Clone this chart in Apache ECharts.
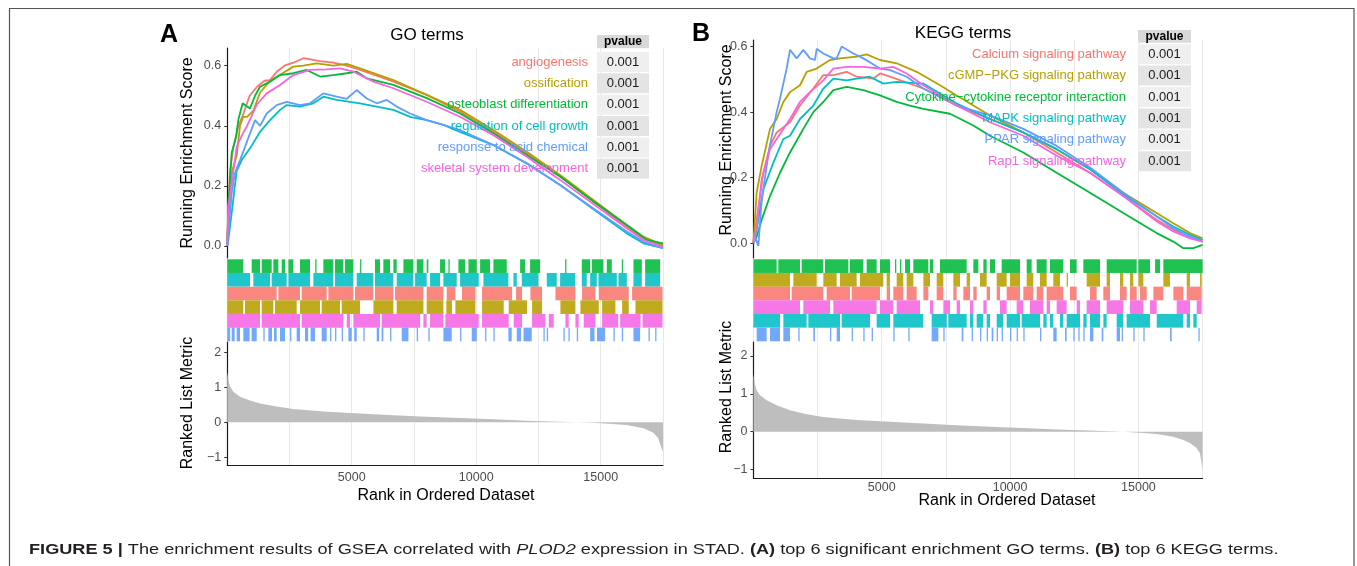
<!DOCTYPE html>
<html><head><meta charset="utf-8">
<script src="https://cdn.jsdelivr.net/npm/echarts@6/dist/echarts.min.js"></script>
<style>html,body{margin:0;padding:0;background:#fff}#c{width:1357px;height:566px}</style>
</head><body><div id="c"></div>
<script>
// ---------------- DATA ----------------
const xTickLabels = [5000, 10000, 15000];
const esTicks = [0, 0.2, 0.4, 0.6];
const metricTicks = [-1, 0, 1, 2];
const rankMax = 17500;

// Panel A (GO terms)
const termsA = ['angiogenesis', 'ossification', 'osteoblast differentiation', 'regulation of cell growth', 'response to acid chemical', 'skeletal system development'];
const pvalsA = ['0.001', '0.001', '0.001', '0.001', '0.001', '0.001'];

const esA_angiogenesis = [[0,0],[46,0.13],[112,0.25],[250,0.33],[450,0.40],[650,0.44],[900,0.50],[1200,0.53],[1500,0.55],[1719,0.552],[1987,0.58],[2300,0.60],[2656,0.61],[3058,0.625],[3400,0.62],[3727,0.615],[4263,0.61],[4799,0.60],[5335,0.586],[6674,0.547],[8011,0.503],[9350,0.447],[10689,0.380],[12028,0.308],[13367,0.231],[14706,0.148],[16045,0.064],[16714,0.026],[17500,0]];
const esA_ossification = [[0,0],[46,0.09],[200,0.25],[380,0.30],[514,0.40],[648,0.43],[800,0.43],[916,0.44],[1050,0.45],[1318,0.51],[1719,0.55],[2121,0.57],[2656,0.597],[3058,0.60],[3593,0.608],[4263,0.60],[4799,0.606],[5335,0.591],[6674,0.552],[8011,0.503],[9350,0.453],[10689,0.386],[12028,0.314],[13367,0.236],[14706,0.153],[16045,0.070],[16714,0.031],[17500,0.002]];
const esA_osteoblast = [[0,0],[60,0.15],[179,0.31],[350,0.36],[447,0.42],[621,0.475],[780,0.465],[916,0.458],[1117,0.50],[1318,0.53],[1719,0.547],[2121,0.569],[2656,0.575],[3192,0.586],[3727,0.564],[4263,0.569],[4799,0.575],[5201,0.58],[5603,0.558],[6674,0.536],[8011,0.492],[9350,0.441],[10689,0.375],[12028,0.303],[13367,0.231],[14706,0.148],[16045,0.070],[16848,0.020],[17500,0.009]];
const esA_regulation = [[0,0],[46,0.02],[179,0.109],[380,0.25],[581,0.286],[916,0.325],[1318,0.380],[1719,0.419],[2121,0.453],[2389,0.469],[2924,0.464],[3460,0.475],[3861,0.497],[4397,0.486],[4933,0.480],[5335,0.475],[6004,0.464],[6674,0.453],[7343,0.430],[8011,0.419],[8681,0.403],[9350,0.380],[10689,0.336],[12028,0.275],[13367,0.203],[14706,0.122],[16045,0.042],[16714,0.009],[17500,-0.007]];
const esA_response = [[0,0],[46,0.04],[179,0.175],[300,0.24],[514,0.286],[715,0.330],[916,0.375],[1117,0.419],[1318,0.40],[1585,0.441],[1987,0.469],[2389,0.480],[2924,0.469],[3326,0.475],[3861,0.508],[4397,0.497],[4799,0.49],[5201,0.519],[5603,0.491],[6004,0.475],[6406,0.486],[6808,0.464],[7343,0.441],[8011,0.419],[8681,0.403],[9350,0.386],[10689,0.336],[12028,0.275],[13367,0.203],[14706,0.125],[16045,0.048],[16714,0.014],[17500,-0.007]];
const esA_skeletal = [[0,0],[46,0.13],[200,0.22],[380,0.33],[600,0.37],[782,0.397],[1184,0.47],[1585,0.508],[2121,0.536],[2656,0.569],[3326,0.586],[3995,0.588],[4531,0.591],[5067,0.580],[5871,0.547],[6674,0.525],[8011,0.480],[9350,0.430],[10689,0.369],[12028,0.297],[13367,0.220],[14706,0.140],[16045,0.059],[16714,0.020],[17500,-0.004]];

const hitsA_osteoblast = [[0,648],[983,1318],[1385,1787],[1853,2054],[2188,2322],[2456,2656],[2924,3326],[3535,3535],[3861,4263],[4330,4665],[4732,5067],[5335,5335],[5935,6136],[6270,6538],[6673,6807],[7076,7477],[7611,7880],[8011,8078],[8547,8748],[8882,8882],[9284,9552],[9686,10021],[10155,10556],[10690,11226],[11762,11963],[12163,12565],[13569,13569],[14239,14574],[14641,15109],[15243,15444],[15845,15845],[16314,16648],[16782,17383]];
const hitsA_regulation = [[0,916],[1050,1719],[1786,2389],[2456,3326],[3460,4263],[4330,5067],[5201,5871],[5935,6673],[6807,7477],[7544,8011],[8145,8547],[8681,9217],[9351,10100],[10289,11292],[11494,11628],[11829,12498],[12833,13234],[13368,13971],[14239,14440],[14574,14841],[14908,15645],[15712,16047],[16314,16648],[16782,17383]];
const hitsA_angiogenesis = [[0,1987],[2054,2924],[2991,3995],[4062,5067],[5134,5870],[5935,6673],[6740,7880],[8011,8681],[8815,9163],[9430,9966],[10234,11439],[11600,11841],[12175,12644],[13180,13983],[14251,14787],[14921,16125],[16259,17480]];
const hitsA_ossification = [[0,648],[715,1318],[1385,1853],[1920,2790],[2924,3727],[3794,4531],[4598,5335],[5871,6673],[6807,7880],[8011,8681],[8800,9029],[9163,9966],[10234,11104],[11305,12041],[12242,12644],[13380,13983],[14184,14921],[15054,15590],[15858,16125],[16393,17480]];
const hitsA_skeletal = [[0,1318],[1385,2924],[2991,4665],[4799,4933],[5067,6136],[6204,7744],[7878,8011],[8145,8681],[8760,10100],[10234,11305],[11506,11841],[12242,12778],[12912,13112],[13581,13715],[13983,14117],[14318,14787],[15054,15700],[15780,16600],[16680,17480]];
const hitsA_response = [[0,120],[180,300],[380,514],[648,900],[980,1184],[1452,1452],[1652,1800],[1880,1987],[2121,2322],[2523,2523],[2790,2924],[3125,3250],[3350,3527],[3794,3995],[4129,4129],[4330,4330],[4598,4598],[4866,5000],[5100,5201],[5469,5469],[6004,6100],[6200,6271],[6540,6540],[7008,7276],[7611,7611],[8078,8078],[8681,9016],[9351,9351],[9820,10021],[10356,10356],[10690,10690],[11292,11426],[11628,11800],[11900,12230],[12699,12699],[12833,12833],[13502,13502],[13703,13703],[14038,14038],[14574,14750],[14850,15176],[15511,15511],[15846,15846],[16314,16582],[16917,16917],[17185,17185]];

const metricA = [[0,1.45],[46,1.21],[112,1.02],[246,0.875],[514,0.73],[916,0.62],[1318,0.54],[1987,0.45],[2656,0.38],[3995,0.30],[5335,0.25],[6674,0.20],[8011,0.155],[9350,0.12],[10689,0.085],[12028,0.047],[13367,0.018],[14706,-0.01],[16045,-0.08],[16714,-0.17],[17116,-0.3],[17300,-0.45],[17450,-0.75],[17500,-0.85]];

// Panel B (KEGG terms)
const termsB = ['Calcium signaling pathway', 'cGMP\u2212PKG signaling pathway', 'Cytokine\u2212cytokine receptor interaction', 'MAPK signaling pathway', 'PPAR signaling pathway', 'Rap1 signaling pathway'];
const pvalsB = ['0.001', '0.001', '0.001', '0.001', '0.001', '0.001'];

const esB_calcium = [[0,0],[127,0.072],[387,0.215],[647,0.297],[906,0.338],[1426,0.369],[1815,0.420],[2334,0.472],[2724,0.513],[3114,0.513],[3633,0.523],[4022,0.508],[4672,0.502],[4931,0.518],[5321,0.508],[6619,0.472],[7918,0.420],[9217,0.379],[10515,0.338],[11814,0.277],[13112,0.215],[14411,0.144],[15709,0.072],[16358,0.041],[17008,0.020],[17500,0.005]];
const esB_cgmp = [[0,0],[127,0.154],[322,0.236],[647,0.349],[906,0.379],[1166,0.431],[1426,0.461],[1815,0.482],[2075,0.523],[2464,0.533],[2984,0.559],[3373,0.564],[4022,0.569],[4412,0.576],[4931,0.559],[5581,0.549],[6360,0.523],[7269,0.482],[7918,0.451],[9217,0.390],[10515,0.338],[11814,0.287],[13112,0.226],[14411,0.154],[15709,0.092],[16358,0.061],[17008,0.031],[17500,0.015]];
const esB_cytokine = [[0,0],[127,0.020],[322,0.072],[647,0.144],[1036,0.215],[1426,0.277],[1945,0.349],[2334,0.400],[2724,0.431],[3114,0.467],[3633,0.477],[4282,0.467],[4931,0.451],[5581,0.431],[6100,0.420],[6619,0.410],[7658,0.395],[8567,0.359],[9217,0.328],[10515,0.277],[11814,0.215],[13112,0.154],[14411,0.092],[15709,0.031],[16358,0.005],[16748,-0.015],[17138,-0.015],[17500,-0.005]];
const esB_mapk = [[0,0],[127,0.041],[387,0.164],[777,0.246],[1166,0.318],[1426,0.328],[1815,0.379],[2334,0.420],[2724,0.472],[3114,0.502],[3633,0.497],[4022,0.502],[4542,0.508],[5061,0.487],[5581,0.492],[6619,0.487],[7918,0.426],[9217,0.379],[10515,0.338],[11814,0.287],[13112,0.226],[14411,0.149],[15709,0.082],[16358,0.051],[17008,0.026],[17500,0.01]];
const esB_ppar = [[0,0.01],[62,0.02],[192,-0.008],[322,0.13],[517,0.236],[647,0.30],[906,0.40],[1036,0.441],[1296,0.533],[1426,0.590],[1685,0.564],[1945,0.590],[2205,0.564],[2399,0.559],[2464,0.593],[2724,0.579],[3114,0.564],[3243,0.564],[3438,0.600],[3892,0.579],[4282,0.564],[4931,0.533],[5321,0.528],[5970,0.508],[6619,0.472],[7918,0.420],[9217,0.390],[10515,0.349],[11814,0.297],[13112,0.231],[14411,0.154],[15709,0.082],[16358,0.046],[17008,0.020],[17500,0.005]];
const esB_rap1 = [[0,0],[127,0.051],[322,0.195],[647,0.287],[906,0.318],[1426,0.379],[1815,0.431],[2205,0.461],[2724,0.497],[3114,0.533],[3633,0.538],[4282,0.538],[4931,0.533],[5451,0.538],[5970,0.518],[6619,0.482],[7918,0.420],[9217,0.369],[10515,0.328],[11814,0.267],[13112,0.215],[14411,0.144],[15709,0.067],[16358,0.036],[17008,0.015],[17500,0.005]];

const hitsB_cytokine = [[0,906],[971,1815],[1880,2724],[2789,3698],[3763,4282],[4412,4801],[4931,5321],[5516,5516],[5711,5711],[5905,6100],[6230,6815],[6880,7010],[7270,8308],[8568,8763],[8958,9088],[9218,9413],[9672,10386],[10646,10840],[11035,11425],[11554,12074],[12334,12594],[12854,13503],[13763,14932],[14997,15452],[15647,15842],[15971,17500]];
const hitsB_cgmp = [[0,1426],[1556,2465],[2724,3244],[3374,4023],[4153,5062],[5192,5322],[5581,5841],[5971,6231],[6621,6880],[7140,7400],[7789,8049],[8309,8439],[8828,9088],[9478,9867],[9997,10386],[10646,10905],[11165,11425],[11684,11944],[12204,12204],[12983,13503],[13763,13893],[14282,14412],[14671,14801],[14997,15192],[15971,16231],[16880,17010],[17400,17465]];
const hitsB_calcium = [[0,1426],[1491,2724],[2854,3763],[3828,4931],[5192,5322],[5451,5841],[5971,6361],[6621,6815],[7140,7400],[7789,7919],[8179,8439],[8568,8698],[9088,9218],[9478,9608],[9867,10386],[10516,10905],[11035,11295],[11425,12074],[12334,12594],[13114,13373],[13633,13893],[14282,14541],[14671,14932],[15062,15322],[15582,15971],[16361,16750],[16880,17465]];
const hitsB_rap1 = [[0,1815],[1945,2984],[3114,4801],[4931,5451],[5581,6490],[6880,7010],[7400,7659],[7919,8049],[8439,8568],[8958,9088],[9608,9867],[10256,10516],[10775,11295],[11425,11554],[11814,12204],[12594,12724],[12983,13503],[13763,14412],[14671,15192],[15452,15712],[16490,17010],[17270,17465]];
const hitsB_mapk = [[0,1036],[1166,2075],[2140,3374],[3438,4542],[4801,5321],[5451,6620],[6945,7530],[7594,8309],[8439,8568],[8698,8958],[9088,9218],[9478,9737],[9867,10386],[10451,11165],[11295,11425],[11554,11684],[11944,12074],[12204,12724],[12854,12983],[13114,13503],[13633,13763],[14152,14412],[14541,15452],[15712,16750],[16880,17010],[17140,17270]];
const hitsB_ppar = [[127,517],[647,1036],[1166,1426],[1750,1750],[2334,2399],[2984,2984],[3244,3374],[3828,3828],[4282,4282],[4607,4607],[5451,5451],[6035,6035],[6945,7205],[7400,7400],[8114,8179],[8503,8503],[8828,8828],[9088,9088],[9283,9348],[9478,9478],[9672,9672],[9997,9997],[10256,10256],[10516,10516],[11165,11165],[11684,11814],[12139,12204],[12464,12464],[12659,12659],[12854,12854],[13114,13244],[13568,13633],[14152,14282],[14347,14347],[14801,14801],[15192,15192],[16231,16296],[17335,17335]];

const metricB = [[0,1.52],[62,1.26],[127,1.09],[257,0.96],[517,0.83],[906,0.70],[1426,0.57],[2075,0.46],[2724,0.39],[4022,0.31],[5321,0.26],[6619,0.22],[7918,0.17],[9217,0.13],[10515,0.10],[11814,0.06],[13112,0.035],[14411,0.0],[15061,-0.03],[15709,-0.06],[16358,-0.13],[16748,-0.22],[17008,-0.30],[17268,-0.43],[17397,-0.57],[17500,-1.0]];

// ---------------- STYLE / LAYOUT ----------------
const COL = {red:'#F8766D', olive:'#B79F00', green:'#00BA38', cyan:'#00BFC4', blue:'#619CFF', pink:'#F564E3'};
const FF = 'Liberation Sans';
const colorsTerms = [COL.red, COL.olive, COL.green, COL.cyan, COL.blue, COL.pink];

const panels = [
  { letter:'A', title:'GO terms', titleX:427, titleY:35, letterX:169, letterY:35,
    left:227.2, width:435.8, xLabelMargin:6.5,
    top:{y:48, h:210, min:-0.040, max:0.659},
    bar:{y:259.3, h:82},
    bot:{y:342, h:123, min:-1.22, max:2.294},
    esTitle:{x:188, y:153}, metTitle:{x:188, y:403}, xTitle:{x:446, y:496},
    table:{labelRight:588, c0:597, c1:649, hy0:35, hy1:48.3, row0:62, pitch:21.35, rh:20},
    terms:termsA, pvals:pvalsA,
    es:[esA_angiogenesis, esA_ossification, esA_osteoblast, esA_regulation, esA_response, esA_skeletal],
    hits:[[hitsA_osteoblast, COL.green],[hitsA_regulation, COL.cyan],[hitsA_angiogenesis, COL.red],[hitsA_ossification, COL.olive],[hitsA_skeletal, COL.pink],[hitsA_response, COL.blue]],
    metric:metricA },
  { letter:'B', title:'KEGG terms', titleX:963, titleY:33, letterX:701, letterY:34,
    left:753.4, width:449.2, xLabelMargin:3.5,
    top:{y:40, h:218, min:-0.045, max:0.620},
    bar:{y:259.3, h:82},
    bot:{y:342, h:136, min:-1.223, max:2.37},
    esTitle:{x:727, y:140}, metTitle:{x:727, y:387}, xTitle:{x:1007, y:501},
    table:{labelRight:1126, c0:1138, c1:1191, hy0:30, hy1:42.7, row0:54.2, pitch:21.4, rh:20},
    terms:termsB, pvals:pvalsB,
    es:[esB_calcium, esB_cgmp, esB_cytokine, esB_mapk, esB_ppar, esB_rap1],
    hits:[[hitsB_cytokine, COL.green],[hitsB_cgmp, COL.olive],[hitsB_calcium, COL.red],[hitsB_rap1, COL.pink],[hitsB_mapk, COL.cyan],[hitsB_ppar, COL.blue]],
    metric:metricB }
];

const grid = [], xAxis = [], yAxis = [], series = [], graphic = [];
const labelStyle = {color:'#4d4d4d', fontSize:12.5, fontFamily:FF};
const splitX = {show:true, lineStyle:{color:'#e8e8e8', width:1}};

panels.forEach((p, pi) => {
  const base = pi * 3;
  grid.push({left:p.left, top:p.top.y, width:p.width, height:p.top.h});
  grid.push({left:p.left, top:p.bar.y, width:p.width, height:p.bar.h});
  grid.push({left:p.left, top:p.bot.y, width:p.width, height:p.bot.h});
  for (let k = 0; k < 3; k++) {
    const isBot = k === 2;
    xAxis.push({gridIndex:base+k, type:'value', min:0, max:rankMax, interval:2500,
      axisLine:{show:isBot, onZero:false, lineStyle:{color:'#1a1a1a', width:1.2}},
      axisTick:{show:false},
      axisLabel:{show:isBot, customValues:xTickLabels, margin:p.xLabelMargin, formatter:v=>String(v), ...labelStyle},
      splitLine:splitX});
  }
  yAxis.push({gridIndex:base, type:'value', min:p.top.min, max:p.top.max,
    axisLine:{show:true, lineStyle:{color:'#1a1a1a', width:1.2}},
    axisTick:{show:true, length:3, customValues:esTicks, lineStyle:{color:'#333'}},
    axisLabel:{customValues:esTicks, margin:6, formatter:v=>v.toFixed(1), ...labelStyle},
    splitLine:{show:false}});
  yAxis.push({gridIndex:base+1, type:'value', min:0, max:6, inverse:true, show:false});
  yAxis.push({gridIndex:base+2, type:'value', min:p.bot.min, max:p.bot.max,
    axisLine:{show:true, onZero:false, lineStyle:{color:'#1a1a1a', width:1.2}},
    axisTick:{show:true, length:3, customValues:metricTicks, lineStyle:{color:'#333'}},
    axisLabel:{customValues:metricTicks, margin:6, formatter:v=>String(v).replace('-', '\u2212'), ...labelStyle},
    splitLine:{show:false}});

  series.push({type:'line', xAxisIndex:base+2, yAxisIndex:base+2, data:p.metric, showSymbol:false, silent:true,
    lineStyle:{width:0}, areaStyle:{color:'#bebebe', opacity:1, origin:0}});

  p.hits.forEach((h, row) => {
    const color = h[1];
    series.push({type:'custom', xAxisIndex:base+1, yAxisIndex:base+1, silent:true,
      data:h[0].map(r => [r[0], r[1], row]),
      encode:{x:[0,1], y:2},
      renderItem:(params, api) => {
        const s = api.coord([api.value(0), api.value(2)]);
        const e = api.coord([api.value(1), api.value(2) + 1]);
        return {type:'rect', shape:{x:s[0], y:Math.min(s[1], e[1]), width:Math.max(e[0]-s[0], 1.3), height:Math.abs(e[1]-s[1])},
          style:{fill:color, opacity:0.88}};
      }});
  });

  p.es.forEach((d, i) => {
    series.push({type:'line', xAxisIndex:base, yAxisIndex:base, data:d, showSymbol:false, silent:true,
      lineStyle:{color:colorsTerms[i], width:1.8}, itemStyle:{color:colorsTerms[i]}});
  });

  graphic.push({type:'text', x:p.letterX, y:p.letterY, style:{text:p.letter, font:'bold 25px ' + FF, fill:'#000', textAlign:'center', textVerticalAlign:'middle'}});
  graphic.push({type:'text', x:p.titleX, y:p.titleY, style:{text:p.title, font:'17px ' + FF, fill:'#000', textAlign:'center', textVerticalAlign:'middle'}});
  graphic.push({type:'text', x:p.esTitle.x, y:p.esTitle.y, rotation:Math.PI/2, style:{text:'Running Enrichment Score', font:'16px ' + FF, fill:'#000', textAlign:'center', textVerticalAlign:'middle'}});
  graphic.push({type:'text', x:p.metTitle.x, y:p.metTitle.y, rotation:Math.PI/2, style:{text:'Ranked List Metric', font:'16px ' + FF, fill:'#000', textAlign:'center', textVerticalAlign:'middle'}});
  graphic.push({type:'text', x:p.xTitle.x, y:p.xTitle.y, style:{text:'Rank in Ordered Dataset', font:'16px ' + FF, fill:'#000', textAlign:'center', textVerticalAlign:'middle'}});

  const t = p.table;
  graphic.push({type:'rect', shape:{x:t.c0, y:t.hy0, width:t.c1-t.c0, height:t.hy1-t.hy0}, style:{fill:'#d9d9d9'}});
  graphic.push({type:'text', x:(t.c0+t.c1)/2, y:(t.hy0+t.hy1)/2, style:{text:'pvalue', font:'bold 12px ' + FF, fill:'#000', textAlign:'center', textVerticalAlign:'middle'}});
  p.terms.forEach((term, i) => {
    const cy = t.row0 + i * t.pitch;
    graphic.push({type:'rect', z:10, shape:{x:t.c0, y:cy - t.rh/2, width:t.c1-t.c0, height:t.rh}, style:{fill: i % 2 === 0 ? '#efefef' : '#e4e4e4'}});
    graphic.push({type:'text', z:11, x:(t.c0+t.c1)/2, y:cy, style:{text:p.pvals[i], font:'13px ' + FF, fill:'#1a1a1a', textAlign:'center', textVerticalAlign:'middle'}});
    graphic.push({type:'text', z:11, x:t.labelRight, y:cy, style:{text:term, font:'13px ' + FF, fill:colorsTerms[i], textAlign:'right', textVerticalAlign:'middle'}});
  });
});

graphic.push({type:'rect', shape:{x:9.5, y:8.5, width:1344.5, height:600}, style:{fill:'none', stroke:'#555', lineWidth:1.2}});
graphic.push({type:'text', x:29, y:550, scaleX:1.21, scaleY:1, style:{
  text:'{b|FIGURE 5 |} The enrichment results of GSEA correlated with {i|PLOD2} expression in STAD. {b|(A)} top 6 significant enrichment GO terms. {b|(B)} top 6 KEGG terms.',
  font:'15px ' + FF, fill:'#231f20', textVerticalAlign:'middle',
  rich:{b:{fontWeight:'bold', fontSize:15, fontFamily:FF, fill:'#231f20'}, i:{fontStyle:'italic', fontSize:15, fontFamily:FF, fill:'#231f20'}}}});

const chart = echarts.init(document.getElementById('c'), null, {renderer:'canvas'});
chart.setOption({animation:false, backgroundColor:'#fff', grid, xAxis, yAxis, series, graphic});
</script></body></html>
